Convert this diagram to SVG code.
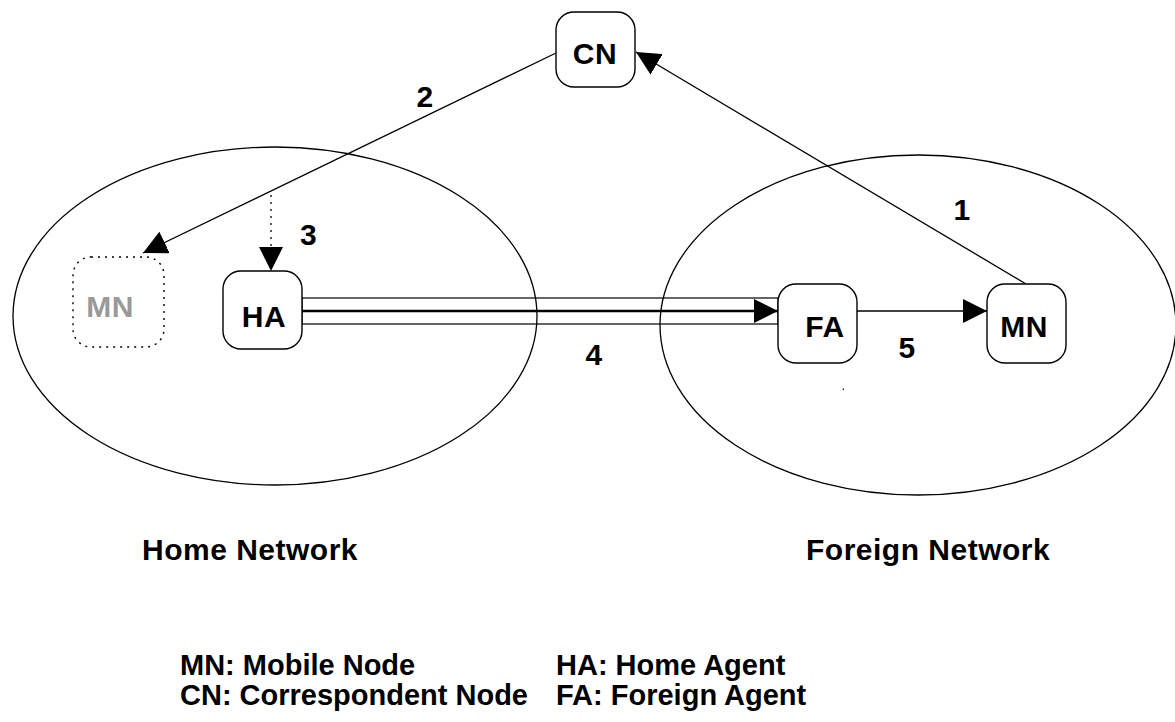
<svg xmlns="http://www.w3.org/2000/svg" width="1175" height="722" viewBox="0 0 1175 722">
<defs>
<style>
.net{fill:none;stroke:#000;stroke-width:1.3}
.box{fill:#fff;stroke:#000;stroke-width:1.4}
.ghost{fill:#fff;stroke:#000;stroke-width:1.4;stroke-dasharray:2 5}
.lbl{font-family:"Liberation Sans",Arial,sans-serif;font-weight:bold;font-size:30px;letter-spacing:0.5px;fill:#000}
.leg{font-family:"Liberation Sans",Arial,sans-serif;font-weight:bold;font-size:29px;fill:#000}
.mid{text-anchor:middle}
.gray{fill:#999}
.ln{fill:none;stroke:#000;stroke-width:1.3}
</style>
<marker id="ah" markerUnits="userSpaceOnUse" markerWidth="24" markerHeight="24" refX="24" refY="12" orient="auto" viewBox="0 0 24 24">
<path d="M0,0 L24,12 L0,24 z" fill="#000"/>
</marker>
</defs>
<rect width="1175" height="722" fill="#fff"/>
<g id="home-network">
<ellipse class="net" cx="275" cy="316" rx="262" ry="169"/>
<text class="lbl" x="142" y="560">Home Network</text>
</g>
<g id="foreign-network">
<ellipse class="net" cx="918" cy="325" rx="258" ry="170"/>
<text class="lbl" x="806" y="560">Foreign Network</text>
</g>
<g id="connectors">
<line class="ln" x1="556" y1="53" x2="143" y2="253" marker-end="url(#ah)"/>
<line class="ln" x1="1026" y1="284" x2="636" y2="52" marker-end="url(#ah)"/>
<line class="ln" x1="271" y1="195" x2="271" y2="271" stroke-dasharray="2 5" marker-end="url(#ah)"/>
<rect x="302" y="298" width="476" height="26" fill="none" stroke="#000" stroke-width="1.2"/>
<line x1="302" y1="311" x2="778" y2="311" stroke="#000" stroke-width="2.6" marker-end="url(#ah)"/>
<line class="ln" x1="857" y1="311" x2="987" y2="311" marker-end="url(#ah)"/>
<text class="lbl mid" x="962" y="220">1</text>
<text class="lbl mid" x="425" y="107">2</text>
<text class="lbl" x="300" y="245">3</text>
<text class="lbl mid" x="594" y="365">4</text>
<text class="lbl mid" x="907" y="358">5</text>
</g>
<g id="CN">
<rect class="box" x="556" y="12" width="79" height="75" rx="18"/>
<text class="lbl mid" x="595" y="64">CN</text>
</g>
<g id="MN-home">
<rect class="ghost" x="73" y="257" width="91" height="90" rx="18"/>
<text class="lbl mid gray" x="110" y="317">MN</text>
</g>
<g id="HA">
<rect class="box" x="223" y="271" width="79" height="78" rx="18"/>
<text class="lbl mid" x="264" y="327">HA</text>
</g>
<g id="FA">
<rect class="box" x="778" y="284" width="79" height="79" rx="18"/>
<text class="lbl mid" x="825" y="337">FA</text>
</g>
<g id="MN">
<rect class="box" x="987" y="284" width="79" height="79" rx="18"/>
<text class="lbl mid" x="1024" y="337">MN</text>
</g>
<circle cx="843.3" cy="389.3" r="0.8" fill="#000"/>
<g id="legend">
<text class="leg" x="180" y="675">MN: Mobile Node</text>
<text class="leg" x="180" y="705">CN: Correspondent Node</text>
<text class="leg" x="556" y="675">HA: Home Agent</text>
<text class="leg" x="556" y="705">FA: Foreign Agent</text>
</g>
</svg>
